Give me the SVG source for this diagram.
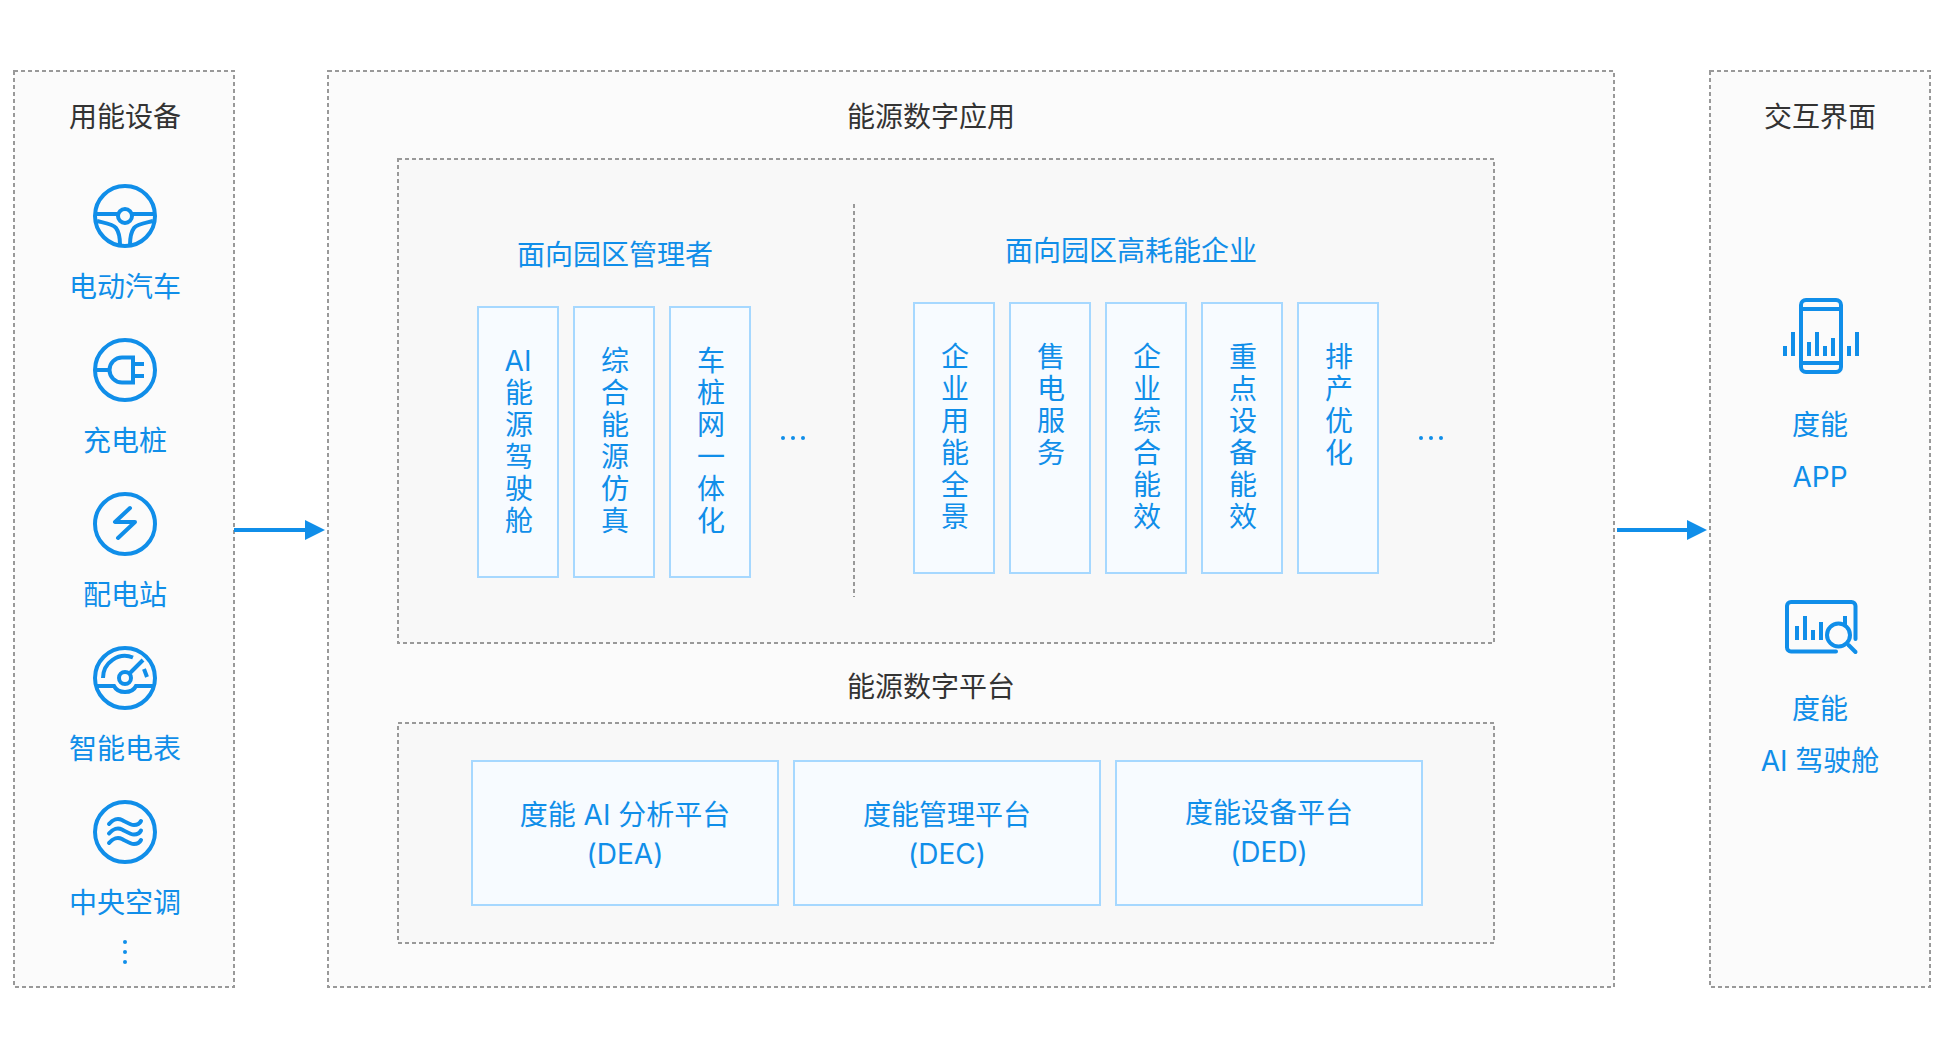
<svg xmlns="http://www.w3.org/2000/svg" width="1943" height="1048" viewBox="0 0 1943 1048">
<style>
text{font-family:Inter,"Noto Sans CJK SC","Noto Sans",sans-serif;font-size:28px;font-weight:400;text-anchor:middle;fill:#108ee9}
.title{fill:#333}
.panel{fill:#fbfbfb;stroke:#999;stroke-width:2;stroke-dasharray:4 3}
.inner{fill:#f8f8f8;stroke:#999;stroke-width:2;stroke-dasharray:4 3}
.card{fill:#f7fbff;stroke:#a6d8ff;stroke-width:2}
.ic{fill:none;stroke:#108ee9;stroke-width:4}
.icr{fill:none;stroke:#108ee9;stroke-width:4;stroke-linecap:round;stroke-linejoin:round}
.dot{fill:#108ee9}
.bar{fill:#108ee9}
.flow{stroke:#108ee9;stroke-width:4;fill:none}
</style>
<defs>
<marker id="ah" markerUnits="userSpaceOnUse" markerWidth="20" markerHeight="20" refX="0" refY="10" orient="auto"><path d="M0 0L20 10L0 20Z" fill="#108ee9"/></marker>
</defs>
<rect width="1943" height="1048" fill="#fff"/>

<g id="devices">
<rect class="panel" x="14" y="71" width="220" height="916"/>
<text class="title" x="125" y="127">用能设备</text>
</g>
<g id="ev" transform="translate(125 216)">
<circle class="ic" r="30"/><circle class="ic" r="7" stroke-width="3.5"/>
<path class="ic" d="M-30-2H-8M8-2H30M-28 5C-20 7-12 8-9 12S-5 22-5 29M28 5C20 7 12 8 9 12S5 22 5 29"/>
<text y="81">电动汽车</text>
</g>
<g id="charger" transform="translate(125 370)">
<circle class="ic" r="30"/>
<path class="ic" d="M-30 0H-15M8-12.500H-3A12.500 12.500 0 0 0-3 12.500H8ZM8-6H19M8 6H19"/>
<text y="81">充电桩</text>
</g>
<g id="station" transform="translate(125 524)">
<circle class="ic" r="30"/>
<path class="icr" d="M5-16L-10-2L10-2L-7 14"/>
<text y="81">配电站</text>
</g>
<g id="meter" transform="translate(125 678)">
<circle class="ic" r="30"/><circle class="ic" r="6"/>
<path class="ic" d="M-22 0A22 22 0 0 1 8-20.500M4-4L18-18M19-9L22-1M-30 8H-11C-7 16 7 16 11 8H30"/>
<text y="81">智能电表</text>
</g>
<g id="hvac" transform="translate(125 832)">
<circle class="ic" r="30"/>
<path class="icr" d="M-16-8C-12-13-7-14-3-12S5-7 9-7 15-9 16-11M-16 1.500C-12-3.500-7-4.500-3-2.500S5 2.500 9 2.500 15 0.500 16-1.500M-16 11C-12 6-7 5-3 7S5 12 9 12 15 10 16 8"/>
<text y="81">中央空调</text>
</g>
<g id="devices-more"><circle class="dot" cx="125" cy="942" r="2"/><circle class="dot" cx="125" cy="952" r="2"/><circle class="dot" cx="125" cy="962" r="2"/></g>

<g id="apps">
<rect class="panel" x="328" y="71" width="1286" height="916"/>
<text class="title" x="931" y="127">能源数字应用</text>
<rect class="inner" x="398" y="159" width="1096" height="484"/>
<line x1="854" y1="204" x2="854" y2="597" stroke="#999" stroke-width="2" stroke-dasharray="4 3"/>
<text x="615" y="265">面向园区管理者</text>
<text x="1131" y="261">面向园区高耗能企业</text>
</g>
<g id="c1"><rect class="card" x="478" y="307" width="80" height="270"/><text y="371"><tspan x="518">AI</tspan><tspan x="519" dy="32">能</tspan><tspan x="519" dy="32">源</tspan><tspan x="519" dy="32">驾</tspan><tspan x="519" dy="32">驶</tspan><tspan x="519" dy="32">舱</tspan></text></g>
<g id="c2"><rect class="card" x="574" y="307" width="80" height="270"/><text y="371"><tspan x="615">综</tspan><tspan x="615" dy="32">合</tspan><tspan x="615" dy="32">能</tspan><tspan x="615" dy="32">源</tspan><tspan x="615" dy="32">仿</tspan><tspan x="615" dy="32">真</tspan></text></g>
<g id="c3"><rect class="card" x="670" y="307" width="80" height="270"/><text y="371"><tspan x="711">车</tspan><tspan x="711" dy="32">桩</tspan><tspan x="711" dy="32">网</tspan><tspan x="711" dy="32">一</tspan><tspan x="711" dy="32">体</tspan><tspan x="711" dy="32">化</tspan></text></g>
<g id="more-a"><circle class="dot" cx="783" cy="438" r="2"/><circle class="dot" cx="793" cy="438" r="2"/><circle class="dot" cx="803" cy="438" r="2"/></g>
<g id="e1"><rect class="card" x="914" y="303" width="80" height="270"/><text y="367"><tspan x="955">企</tspan><tspan x="955" dy="32">业</tspan><tspan x="955" dy="32">用</tspan><tspan x="955" dy="32">能</tspan><tspan x="955" dy="32">全</tspan><tspan x="955" dy="32">景</tspan></text></g>
<g id="e2"><rect class="card" x="1010" y="303" width="80" height="270"/><text y="367"><tspan x="1051">售</tspan><tspan x="1051" dy="32">电</tspan><tspan x="1051" dy="32">服</tspan><tspan x="1051" dy="32">务</tspan></text></g>
<g id="e3"><rect class="card" x="1106" y="303" width="80" height="270"/><text y="367"><tspan x="1147">企</tspan><tspan x="1147" dy="32">业</tspan><tspan x="1147" dy="32">综</tspan><tspan x="1147" dy="32">合</tspan><tspan x="1147" dy="32">能</tspan><tspan x="1147" dy="32">效</tspan></text></g>
<g id="e4"><rect class="card" x="1202" y="303" width="80" height="270"/><text y="367"><tspan x="1243">重</tspan><tspan x="1243" dy="32">点</tspan><tspan x="1243" dy="32">设</tspan><tspan x="1243" dy="32">备</tspan><tspan x="1243" dy="32">能</tspan><tspan x="1243" dy="32">效</tspan></text></g>
<g id="e5"><rect class="card" x="1298" y="303" width="80" height="270"/><text y="367"><tspan x="1339">排</tspan><tspan x="1339" dy="32">产</tspan><tspan x="1339" dy="32">优</tspan><tspan x="1339" dy="32">化</tspan></text></g>
<g id="more-b"><circle class="dot" cx="1421" cy="438" r="2"/><circle class="dot" cx="1431" cy="438" r="2"/><circle class="dot" cx="1441" cy="438" r="2"/></g>

<g id="platform">
<text class="title" x="931" y="697">能源数字平台</text>
<rect class="inner" x="398" y="723" width="1096" height="220"/>
</g>
<g id="dea"><rect class="card" x="472" y="761" width="306" height="144"/><text y="825"><tspan x="625">度能 AI 分析平台</tspan><tspan x="625" dy="39">(DEA)</tspan></text></g>
<g id="dec"><rect class="card" x="794" y="761" width="306" height="144"/><text y="825"><tspan x="947">度能管理平台</tspan><tspan x="947" dy="39">(DEC)</tspan></text></g>
<g id="ded"><rect class="card" x="1116" y="761" width="306" height="144"/><text y="823"><tspan x="1269">度能设备平台</tspan><tspan x="1269" dy="39">(DED)</tspan></text></g>

<g id="ui">
<rect class="panel" x="1710" y="71" width="220" height="916"/>
<text class="title" x="1820" y="127">交互界面</text>
</g>
<g id="app">
<rect class="ic" x="1801" y="300" width="40" height="72" rx="5"/>
<path class="ic" d="M1801 309H1841M1801 363H1841"/>
<path class="bar" d="M1783 346h4v10h-4zM1791 332h4v24h-4zM1807 342h4v14h-4zM1815 332h4v24h-4zM1823 346h4v10h-4zM1831 338h4v18h-4zM1847 346h4v10h-4zM1855 332h4v24h-4z"/>
<text x="1820" y="435">度能</text>
<text x="1820" y="487">APP</text>
</g>
<g id="cockpit">
<path class="icr" d="M1836 651.500H1791A4 4 0 0 1 1787 647.500V606A4 4 0 0 1 1791 602H1851.500A4 4 0 0 1 1855.500 606V639"/>
<path class="bar" d="M1795 626h4v14h-4zM1803 616h4v24h-4zM1811 630h4v10h-4zM1819 622h4v18h-4zM1843 616h4v10h-4z"/>
<circle class="ic" cx="1838.500" cy="635" r="11.500"/>
<path class="icr" d="M1848.500 645L1855.500 652"/>
<text x="1820" y="719">度能</text>
<text x="1820" y="771">AI 驾驶舱</text>
</g>

<g id="connectors">
<line class="flow" x1="234" y1="530" x2="305" y2="530" marker-end="url(#ah)"/>
<line class="flow" x1="1617" y1="530" x2="1687" y2="530" marker-end="url(#ah)"/>
</g>
</svg>
